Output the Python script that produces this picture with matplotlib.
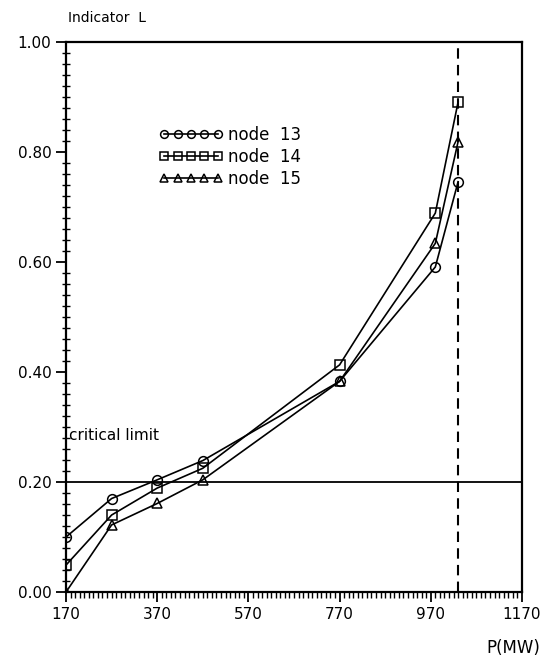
import matplotlib
matplotlib.use("Agg")
import matplotlib.pyplot as plt
import numpy as np
from matplotlib.ticker import MultipleLocator, FixedLocator

P = [170, 270, 370, 470, 770, 980, 1030]
node13 = [0.100, 0.170, 0.204, 0.239, 0.383, 0.591, 0.746]
node14 = [0.049, 0.140, 0.189, 0.225, 0.413, 0.689, 0.891]
node15 = [0.000, 0.122, 0.161, 0.204, 0.383, 0.634, 0.819]
labels = ["node  13", "node  14", "node  15"]
markers = ["o", "s", "^"]
critical = 0.20
p_limit = 1030
xticks = [170, 370, 570, 770, 970, 1170]
yticks = [0.0, 0.2, 0.4, 0.6, 0.8, 1.0]

fig = plt.figure(figsize=(5.42, 6.67), dpi=100)
ax = fig.add_axes([0.1218, 0.1124, 0.963 - 0.1218, 0.937 - 0.1124])

for ys, m, lab in zip([node13, node14, node15], markers, labels):
    ax.plot(P, ys, color="black", lw=1.2, marker=m, markersize=7,
            markerfacecolor="none", markeredgecolor="black", markeredgewidth=1.1,
            label=lab)

ax.axhline(critical, color="black", lw=1.3)
ax.axvline(p_limit, color="black", lw=1.5, ls=(0, (5, 3)))
ax.text(176, 0.285, "critical limit", fontsize=11, ha="left", va="center")

ax.set_xlim(170, 1170)
ax.set_ylim(0, 1.0)
ax.xaxis.set_major_locator(FixedLocator(xticks))
ax.yaxis.set_major_locator(FixedLocator(yticks))
ax.xaxis.set_minor_locator(MultipleLocator(10))
ax.yaxis.set_minor_locator(MultipleLocator(0.02))
ax.set_xticklabels([str(v) for v in xticks])
ax.set_yticklabels([f"{v:.2f}" for v in yticks])
ax.tick_params(axis="both", which="major", direction="out", length=7, width=1.3, labelsize=11)
ax.tick_params(axis="x", which="minor", direction="out", length=4, width=1.0)
ax.tick_params(axis="y", which="minor", direction="inout", length=6, width=1.0)
for s in ax.spines.values():
    s.set_linewidth(1.6)

fig.text(68 / 542, 1 - 18 / 667, "Indicator  L", fontsize=10, ha="left", va="center")
fig.text(540 / 542, 1 - 648 / 667, "P(MW)", fontsize=12, ha="right", va="center")

leg = ax.legend(loc="upper left", bbox_to_anchor=(0.19, 0.86), frameon=False,
                numpoints=5, markerscale=0.8, handlelength=3.8, handletextpad=0.3,
                labelspacing=0.25, fontsize=12, borderaxespad=0)

fig.savefig("out.png", dpi=100)
